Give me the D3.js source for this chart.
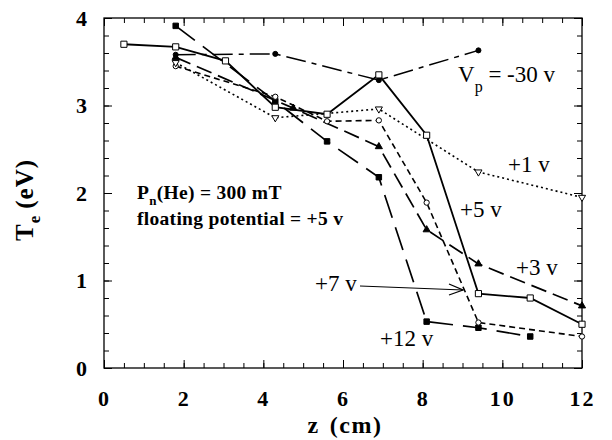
<!DOCTYPE html>
<html>
<head>
<meta charset="utf-8">
<script src="https://cdn.jsdelivr.net/npm/d3@7"></script>
<style>
  body { margin: 0; background: #fff; }
  svg text { font-family: "Liberation Serif", "Times New Roman", serif; fill: #000; }
  .bold { font-weight: bold; }
</style>
</head>
<body>
<div id="chart"></div>
<script>
// z positions (cm) and Te values (eV)
var zVm30 = [1.8, 4.3, 6.9, 9.4];
var teVm30 = [3.58, 3.59, 3.29, 3.63];

var zV5 = [0.5, 1.8, 3.05, 4.3, 5.6, 6.9, 8.1, 9.4, 10.7, 12];
var teV5 = [3.70, 3.67, 3.51, 2.98, 2.90, 3.35, 2.66, 0.85, 0.80, 0.50];

var zV1 = [1.8, 4.3, 6.9, 9.4, 12];
var teV1 = [3.49, 2.86, 2.96, 2.24, 1.95];

var zV7 = [1.8, 4.3, 5.6, 6.9, 8.1, 9.4, 12];
var teV7 = [3.45, 3.10, 2.82, 2.83, 1.89, 0.52, 0.36];

var zV3 = [1.8, 4.75, 6.9, 8.1, 9.4, 12];
var teV3 = [3.55, 2.97, 2.53, 1.58, 1.19, 0.71];

var zV12 = [1.8, 4.3, 5.6, 6.9, 8.1, 9.4, 10.7];
var teV12 = [3.91, 3.05, 2.59, 2.18, 0.53, 0.46, 0.36];

var xTicks = [0, 2, 4, 6, 8, 10, 12];
var yTicks = [0, 1, 2, 3, 4];

var svgWidth = 612, svgHeight = 440;
var plotLeft = 104, plotRight = 582, plotTop = 18, plotBottom = 368;

var svg = d3.select("#chart").append("svg")
    .attr("width", svgWidth)
    .attr("height", svgHeight);

var x = d3.scaleLinear().domain([0, 12]).range([plotLeft, plotRight]);
var y = d3.scaleLinear().domain([0, 4]).range([plotBottom, plotTop]);

// minor ticks (inward on all four sides)
var xMinor = d3.range(0, 12.001, 0.5);
var yMinor = d3.range(0, 4.001, 0.2);

function addAxis(axis, tx, ty) {
    var g = svg.append("g")
        .attr("transform", `translate(${tx},${ty})`)
        .call(axis);
    g.select(".domain").remove();
    g.selectAll("line").attr("stroke", "#000").attr("stroke-width", 1);
    return g;
}

addAxis(d3.axisBottom(x).tickValues(xMinor).tickSize(-5).tickFormat(""), 0, plotBottom);
addAxis(d3.axisTop(x).tickValues(xMinor).tickSize(-5).tickFormat(""), 0, plotTop);
addAxis(d3.axisLeft(y).tickValues(yMinor).tickSize(-5).tickFormat(""), plotLeft, 0);
addAxis(d3.axisRight(y).tickValues(yMinor).tickSize(-5).tickFormat(""), plotRight, 0);

var xAxis = addAxis(d3.axisBottom(x).tickValues(xTicks).tickSize(-8).tickPadding(22).tickFormat(d3.format("d")), 0, plotBottom);
addAxis(d3.axisTop(x).tickValues(xTicks).tickSize(-8).tickFormat(""), 0, plotTop);
var yAxis = addAxis(d3.axisLeft(y).tickValues(yTicks).tickSize(-8).tickPadding(17).tickFormat(d3.format("d")), plotLeft, 0);
addAxis(d3.axisRight(y).tickValues(yTicks).tickSize(-8).tickFormat(""), plotRight, 0);

[xAxis, yAxis].forEach(function (g) {
    g.selectAll("text")
        .attr("font-family", "Liberation Serif, serif")
        .attr("font-size", 22)
        .attr("font-weight", "bold")
        .attr("fill", "#000");
});
xAxis.selectAll("text").attr("letter-spacing", 2);

// frame
svg.append("rect")
    .attr("x", plotLeft).attr("y", plotTop)
    .attr("width", plotRight - plotLeft).attr("height", plotBottom - plotTop)
    .attr("fill", "none").attr("stroke", "#000").attr("stroke-width", 1.3);

// series
var series = [
    { z: zVm30, te: teVm30, dash: "20,6,5,6", width: 1.5, shape: d3.symbolCircle, size: 20, fill: "#000" },
    { z: zV12, te: teV12, dash: "24,10", width: 1.7, shape: d3.symbolSquare, size: 30, fill: "#000" },
    { z: zV3, te: teV3, dash: "16,7", width: 1.7, shape: d3.symbolTriangle, size: 22, fill: "#000" },
    { z: zV7, te: teV7, dash: "6,4", width: 1.6, shape: d3.symbolCircle, size: 22, fill: "#fff" },
    { z: zV1, te: teV1, dash: "2,3", width: 1.6, shape: d3.symbolTriangle, size: 22, fill: "#fff", rot: 180 },
    { z: zV5, te: teV5, dash: null, width: 1.8, shape: d3.symbolSquare, size: 38, fill: "#fff" }
];

var line = d3.line()
    .x(d => x(d[0]))
    .y(d => y(d[1]));

series.forEach(function (s) {
    var pts = s.z.map((v, i) => [v, s.te[i]]);
    svg.append("path")
        .datum(pts)
        .attr("d", line)
        .attr("fill", "none")
        .attr("stroke", "#000")
        .attr("stroke-width", s.width)
        .attr("stroke-dasharray", s.dash);
    svg.append("g").selectAll("path")
        .data(pts)
        .enter()
        .append("path")
        .attr("d", d3.symbol().type(s.shape).size(s.size))
        .attr("transform", d => `translate(${x(d[0])},${y(d[1])}) rotate(${s.rot || 0})`)
        .attr("fill", s.fill)
        .attr("stroke", "#000")
        .attr("stroke-width", 1);
});

// annotations
var vp = svg.append("text").attr("x", 458).attr("y", 82).attr("font-size", 23);
vp.append("tspan").text("V");
vp.append("tspan").attr("font-size", 16).attr("dy", 10).text("p");
vp.append("tspan").attr("dy", -10).text(" = -30 v");

svg.append("text").attr("x", 508).attr("y", 172).attr("font-size", 23).text("+1 v");
svg.append("text").attr("x", 460).attr("y", 217).attr("font-size", 23).text("+5 v");
svg.append("text").attr("x", 516).attr("y", 275).attr("font-size", 23).text("+3 v");
svg.append("text").attr("x", 315).attr("y", 291).attr("font-size", 23).text("+7 v");
svg.append("text").attr("x", 380).attr("y", 346).attr("font-size", 23).text("+12 v");

// arrow from the +7 v label
svg.append("line")
    .attr("x1", 360).attr("y1", 286).attr("x2", 463).attr("y2", 290)
    .attr("stroke", "#000").attr("stroke-width", 1);
svg.append("path")
    .attr("d", "M449,284 L463,290 L449,295")
    .attr("fill", "none").attr("stroke", "#000").attr("stroke-width", 1.3);

var pn = svg.append("text").attr("class", "bold").attr("x", 137).attr("y", 199)
    .attr("font-size", 19.5).attr("letter-spacing", 0.3);
pn.append("tspan").text("P");
pn.append("tspan").attr("font-size", 13).attr("dy", 6).text("n");
pn.append("tspan").attr("dy", -6).text("(He) = 300 mT");

svg.append("text").attr("class", "bold").attr("x", 137).attr("y", 225)
    .attr("font-size", 19.5).attr("letter-spacing", 0.3)
    .text("floating potential = +5 v");

// axis titles
var xt = svg.append("text").attr("class", "bold")
    .attr("x", 345).attr("y", 433)
    .attr("text-anchor", "middle").attr("font-size", 24).attr("letter-spacing", 1.5);
xt.append("tspan").text("z");
xt.append("tspan").attr("dx", 10).text("(cm)");

var yt = svg.append("text").attr("class", "bold")
    .attr("transform", "translate(33,200) rotate(-90)")
    .attr("text-anchor", "middle").attr("font-size", 25).attr("letter-spacing", 1);
yt.append("tspan").text("T");
yt.append("tspan").attr("font-size", 17).attr("dy", 7).text("e");
yt.append("tspan").attr("dy", -7).attr("dx", 6).text("(eV)");
</script>
</body>
</html>
